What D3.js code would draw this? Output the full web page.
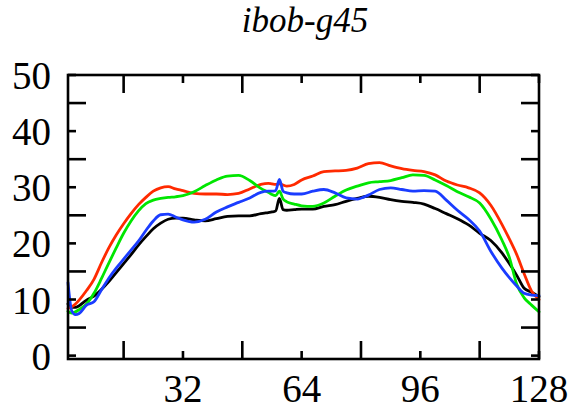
<!DOCTYPE html>
<html>
<head>
<meta charset="utf-8">
<script src="https://cdn.jsdelivr.net/npm/d3@7"></script>
<style>
  html, body { margin: 0; padding: 0; background: #fff; }
  svg { display: block; }
</style>
</head>
<body>
<svg id="chart" width="570" height="412"></svg>
<script>
// Sample positions (1-based index along the profile)
const positions = [1, 2, 3, 4, 6, 8, 10, 12, 14, 16, 18, 20, 22, 24, 26, 28, 30, 32, 35, 38, 41, 44, 47, 50, 53, 55, 56, 57, 58, 59, 60, 62, 64, 67, 70, 73, 76, 79, 82, 85, 88, 91, 94, 97, 100, 103, 106, 109, 112, 115, 118, 120, 122, 124, 126, 128];

const blackValues = [9.2, 8.6, 8.6, 8.9, 9.9, 10.6, 11.8, 13.2, 14.8, 16.4, 18.0, 19.7, 21.2, 22.6, 23.6, 24.3, 24.5, 24.5, 24.2, 24.0, 24.4, 24.8, 24.9, 24.9, 25.3, 25.5, 25.6, 25.8, 28.0, 26.0, 25.9, 26.0, 26.1, 26.1, 26.6, 26.9, 27.5, 28.0, 28.4, 28.2, 27.8, 27.5, 27.3, 27.0, 26.2, 25.3, 24.4, 23.3, 21.8, 20.5, 18.3, 16.4, 14.3, 12.0, 11.3, 10.5];

const redValues = [8.4, 8.7, 9.2, 9.9, 11.6, 13.6, 16.5, 19.2, 21.5, 23.5, 25.3, 26.9, 28.2, 29.3, 29.9, 30.1, 29.7, 29.4, 28.9, 28.8, 28.8, 28.7, 28.9, 29.7, 30.5, 30.7, 30.6, 30.5, 30.6, 30.4, 30.2, 30.5, 31.3, 32.0, 32.8, 32.9, 33.0, 33.4, 34.2, 34.4, 33.8, 33.3, 33.0, 32.8, 32.2, 31.1, 30.4, 29.9, 29.0, 26.8, 23.4, 20.8, 18.0, 14.6, 11.5, 10.0];

const greenValues = [7.9, 7.6, 7.8, 8.2, 9.2, 11.1, 13.7, 16.5, 19.2, 21.8, 24.0, 25.8, 27.1, 27.7, 28.0, 28.2, 28.3, 28.5, 29.2, 30.3, 31.3, 32.0, 32.1, 31.2, 29.8, 29.1, 28.7, 28.5, 29.3, 27.9, 27.4, 27.0, 26.7, 26.6, 27.2, 28.4, 29.5, 30.2, 30.8, 31.0, 31.2, 31.7, 32.2, 32.1, 31.3, 30.3, 29.2, 28.3, 27.2, 24.4, 20.6, 17.5, 12.7, 10.3, 9.0, 7.8];

const blueValues = [13.0, 8.0, 7.3, 7.5, 9.0, 9.6, 11.7, 13.8, 15.6, 17.2, 18.8, 20.4, 22.3, 24.0, 25.1, 25.2, 24.7, 24.2, 23.8, 24.3, 25.6, 26.5, 27.3, 28.1, 29.1, 29.3, 29.3, 29.4, 31.4, 29.3, 29.0, 28.8, 28.8, 29.3, 29.6, 29.0, 28.1, 27.9, 28.6, 29.6, 29.9, 29.6, 29.3, 29.4, 29.3, 27.7, 25.9, 24.3, 22.2, 18.6, 15.6, 13.9, 12.4, 11.1, 10.8, 10.7];

const seriesColors = ["#000000", "#ff2a00", "#00e600", "#1a3cff"];
const xTickLabels = [32, 64, 96, 128];
const xMinorTicks = [16, 48, 80, 112];
const yTickLabels = [0, 10, 20, 30, 40, 50];
const yMinorTicks = [5, 15, 25, 35, 45];
const title = "ibob-g45";

const serif = "Liberation Serif";

const svg = d3.select("#chart");
const plotLeft = 68, plotRight = 539, plotTop = 75, plotBottom = 359;

const x = d3.scaleLinear().domain([1, 128]).range([plotLeft, plotRight]);
const y = d3.scaleLinear().domain([-0.6, 50]).range([plotBottom, plotTop]);

// Data series
const series = [blackValues, redValues, greenValues, blueValues];
const line = d3.line()
  .x((d, i) => x(positions[i]))
  .y(d => y(d))
  .curve(d3.curveMonotoneX);

// Black first, then red, green, blue on top
svg.append("g").selectAll("path")
  .data([0, 1, 2, 3])
  .join("path")
  .attr("d", i => line(series[i]))
  .attr("fill", "none")
  .attr("stroke", i => seriesColors[i])
  .attr("stroke-width", 2.8)
  .attr("stroke-linejoin", "round")
  .attr("stroke-linecap", "round");

// Frame
const frame = svg.append("g").attr("stroke", "#000").attr("stroke-width", 2.6).attr("fill", "none");
frame.append("rect")
  .attr("x", plotLeft).attr("y", plotTop)
  .attr("width", plotRight - plotLeft).attr("height", plotBottom - plotTop);

const longTick = 18, shortTick = 8;

// Ticks on all four sides, pointing inward
const xTicks = xTickLabels.map(v => ({ v, len: shortTick })).concat(xMinorTicks.map(v => ({ v, len: longTick })));
frame.append("g").selectAll("line").data(xTicks).join("line")
  .attr("x1", d => x(d.v)).attr("x2", d => x(d.v))
  .attr("y1", plotBottom).attr("y2", d => plotBottom - d.len);
frame.append("g").selectAll("line").data(xTicks).join("line")
  .attr("x1", d => x(d.v)).attr("x2", d => x(d.v))
  .attr("y1", plotTop).attr("y2", d => plotTop + d.len);

const yTicks = yTickLabels.map(v => ({ v, len: shortTick })).concat(yMinorTicks.map(v => ({ v, len: longTick })));
frame.append("g").selectAll("line").data(yTicks).join("line")
  .attr("x1", plotLeft).attr("x2", d => plotLeft + d.len)
  .attr("y1", d => y(d.v)).attr("y2", d => y(d.v));
frame.append("g").selectAll("line").data(yTicks).join("line")
  .attr("x1", plotRight).attr("x2", d => plotRight - d.len)
  .attr("y1", d => y(d.v)).attr("y2", d => y(d.v));

// Tick labels
svg.append("g").selectAll("text")
  .data(yTickLabels)
  .join("text")
  .attr("x", 51)
  .attr("y", d => y(d))
  .attr("dy", "0.36em")
  .attr("text-anchor", "end")
  .attr("font-family", serif)
  .attr("font-size", 39)
  .attr("fill", "#000")
  .text(d => d);

svg.append("g").selectAll("text")
  .data(xTickLabels)
  .join("text")
  .attr("x", d => x(d))
  .attr("y", 402)
  .attr("text-anchor", "middle")
  .attr("font-family", serif)
  .attr("font-size", 39)
  .attr("fill", "#000")
  .text(d => d);

// Title
svg.append("text")
  .attr("x", 305)
  .attr("y", 31.5)
  .attr("text-anchor", "middle")
  .attr("font-family", serif)
  .attr("font-size", 35)
  .attr("font-style", "italic")
  .attr("fill", "#000")
  .text(title);
</script>
</body>
</html>
